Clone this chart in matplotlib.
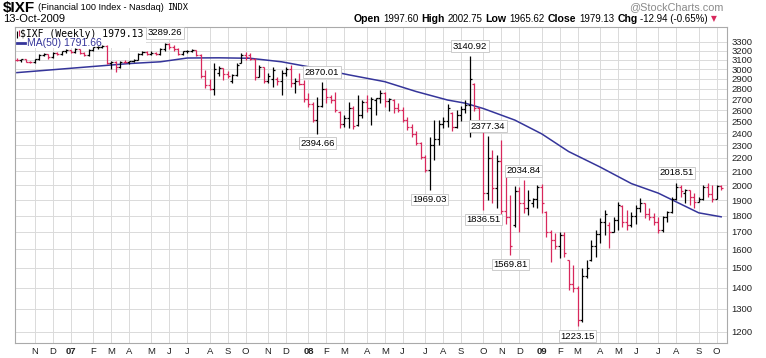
import pandas as pd
import matplotlib.pyplot as plt
from matplotlib import font_manager
from matplotlib.ticker import FixedLocator, NullLocator

# weekly OHLC of $IXF, first bar = week of 2006-10-09
opens = [3100, 3095, 3105, 3078, 3070, 3105, 3150, 3160, 3125, 3170,
         3165, 3190, 3205, 3180, 3215, 3170, 3150, 3210, 3235, 3240,
         3250, 3065, 3080, 3020, 3080, 3075, 3085, 3100, 3165, 3180,
         3165, 3175, 3160, 3220, 3270, 3240, 3215, 3165, 3190, 3200,
         3205, 3150, 2930, 2840, 2800, 2960, 3010, 2950, 2880, 2940,
         3064, 3150, 3150, 3110, 2920, 3020, 2880, 2900, 2900, 2880,
         2960, 3000, 2860, 2880, 2850, 2700, 2660, 2510, 2640, 2800,
         2720, 2690, 2580, 2480, 2530, 2620, 2470, 2560, 2670, 2620,
         2690, 2710, 2760, 2680, 2690, 2620, 2600, 2510, 2450, 2390,
         2320, 2210, 2110, 2300, 2350, 2480, 2500, 2570, 2450, 2560,
         2610, 2650, 2850, 2620, 2440, 1950, 2200, 1980, 2180, 1830,
         1790, 1740, 1960, 1880, 1850, 1880, 1910, 1990, 1820, 1700,
         1650, 1620, 1680, 1540, 1420, 1400, 1250, 1460, 1540, 1620,
         1690, 1760, 1740, 1700, 1770, 1860, 1760, 1740, 1800, 1850,
         1880, 1810, 1790, 1760, 1710, 1790, 1820, 1910, 1990, 1950,
         1965, 1920, 1890, 1910, 1990, 1940, 1910, 1997.60]
highs = [3120, 3112, 3108, 3090, 3110, 3160, 3170, 3165, 3180, 3185,
         3200, 3215, 3210, 3225, 3220, 3185, 3220, 3245, 3250, 3262,
         3260, 3090, 3085, 3090, 3095, 3090, 3110, 3175, 3190, 3195,
         3190, 3185, 3230, 3289.26, 3280, 3260, 3225, 3200, 3210, 3215,
         3210, 3160, 2990, 2900, 3064, 3030, 3015, 2980, 2945, 3064,
         3171, 3185, 3171, 3120, 3043, 3025, 2960, 3022, 2920, 2990,
         3025, 3043, 2910, 2960, 2887, 2761, 2675, 2724, 2870.01, 2810,
         2740, 2770, 2590, 2560, 2675, 2640, 2742, 2693, 2742, 2724,
         2712, 2788, 2765, 2712, 2700, 2666, 2630, 2539, 2480, 2420,
         2330, 2220, 2371, 2511, 2511, 2540, 2660, 2583, 2600, 2640,
         2690, 3140.92, 2860, 2630, 2440, 2377.34, 2262, 2222, 2342, 2146,
         1934, 1994, 1987, 2034.84, 1967, 1915, 2001, 2010, 1830, 1711,
         1694, 1700, 1700, 1540, 1515, 1410, 1499, 1540, 1652, 1711,
         1785, 1835, 1760, 1792, 1888, 1868, 1835, 1823, 1868, 1914,
         1881, 1849, 1817, 1792, 1800, 1830, 1921, 2018.51, 2001, 1975,
         1970, 1947, 1921, 2001, 2015, 2000, 2001, 2002.75]
lows = [3085, 3080, 3070, 3060, 3065, 3100, 3140, 3110, 3120, 3150,
        3150, 3175, 3170, 3175, 3160, 3140, 3145, 3200, 3220, 3225,
        3050, 3005, 2965, 3015, 3060, 3050, 3070, 3095, 3150, 3155,
        3150, 3150, 3155, 3200, 3220, 3200, 3150, 3155, 3170, 3180,
        3140, 2910, 2810, 2790, 2742, 2930, 2890, 2910, 2858, 2930,
        3060, 3100, 3096, 2887, 2915, 2858, 2860, 2820, 2839, 2742,
        2930, 2820, 2761, 2839, 2675, 2630, 2490, 2394.66, 2630, 2666,
        2666, 2583, 2444, 2450, 2444, 2430, 2460, 2530, 2583, 2469,
        2560, 2666, 2630, 2590, 2574, 2583, 2494, 2425, 2370, 2300,
        2190, 2094, 1969.03, 2184, 2304, 2440, 2452, 2417, 2440, 2500,
        2574, 2363, 2590, 2425, 1836.51, 1900, 1880, 1849, 1792, 1750,
        1569.81, 1732, 1700, 1817, 1804, 1855, 1850, 1817, 1671, 1531,
        1600, 1552, 1557, 1388, 1380, 1223.15, 1240, 1447, 1535, 1557,
        1635, 1682, 1607, 1700, 1711, 1732, 1711, 1732, 1750, 1823,
        1785, 1772, 1743, 1694, 1700, 1760, 1817, 1900, 1921, 1881,
        1868, 1849, 1890, 1900, 1921, 1890, 1905, 1965.62]
closes = [3095, 3105, 3078, 3070, 3105, 3150, 3160, 3125, 3170, 3165,
          3190, 3205, 3180, 3215, 3170, 3150, 3210, 3235, 3240, 3250,
          3065, 3080, 3020, 3080, 3075, 3085, 3100, 3165, 3180, 3165,
          3175, 3160, 3220, 3270, 3240, 3215, 3165, 3190, 3200, 3205,
          3150, 2930, 2840, 2800, 3000, 3010, 2950, 2930, 2940, 3040,
          3150, 3130, 3110, 2920, 3020, 2880, 2930, 2990, 2880, 2960,
          3000, 2860, 2880, 2850, 2700, 2660, 2510, 2640, 2800, 2720,
          2690, 2600, 2480, 2530, 2620, 2460, 2560, 2670, 2620, 2700,
          2710, 2760, 2680, 2700, 2620, 2600, 2510, 2450, 2390, 2320,
          2210, 2110, 2300, 2350, 2480, 2500, 2620, 2450, 2560, 2610,
          2650, 2900, 2620, 2450, 1950, 2200, 1980, 2180, 1830, 1790,
          1620, 1960, 1880, 1850, 1900, 1910, 1990, 1880, 1700, 1650,
          1620, 1680, 1580, 1420, 1400, 1250, 1460, 1500, 1620, 1690,
          1760, 1810, 1700, 1770, 1870, 1760, 1740, 1800, 1850, 1880,
          1810, 1790, 1760, 1710, 1790, 1820, 1910, 1990, 1960, 1965,
          1920, 1890, 1910, 1990, 1940, 1910, 1992.07, 1979.13]

# 50-week moving average, read at these weeks
ma_weeks = [0, 25, 32, 38, 45, 52, 59, 67, 74, 82, 89, 96, 100, 104,
            111, 117, 123, 130, 137, 143, 149, 152, 157]
ma_values = [2963, 3058, 3077, 3118, 3120, 3115, 3077, 3007, 2940, 2871,
             2774, 2693, 2663, 2614, 2511, 2393, 2250, 2132, 2012, 1946,
             1859, 1817, 1792]

# labelled extremes: (week, 'high' / 'low')
marks = [(33, 'high'), (68, 'high'), (67, 'low'), (92, 'low'), (101, 'high'),
         (105, 'high'), (104, 'low'), (113, 'high'), (110, 'low'),
         (125, 'low'), (147, 'high')]

y_ticks = list(range(1200, 3400, 100))

names = {f.name for f in font_manager.fontManager.ttflist}
narrow = 'Liberation Sans Narrow' if 'Liberation Sans Narrow' in names else 'Liberation Sans'
plt.rcParams['font.family'] = [narrow, 'DejaVu Sans']

W, H = 766, 358
L, R, T, B = 15, 727, 27, 343
RED = '#d8285c'
NAVY = '#35359a'

fig = plt.figure(figsize=(W / 100, H / 100), dpi=100)
ax = fig.add_axes([L / W, 1 - B / H, (R - L) / W, (B - T) / H])
ax.set_axisbelow(True)

n = len(closes)
idx = list(range(n))
prev = [opens[0]] + closes[:-1]
colors = ['black' if c >= p else RED for c, p in zip(closes, prev)]
ax.vlines(idx, lows, highs, colors=colors, lw=0.9, zorder=3)
ax.hlines(opens, [i - 0.45 for i in idx], idx, colors=colors, lw=0.9, zorder=3)
ax.hlines(closes, idx, [i + 0.45 for i in idx], colors=colors, lw=0.9, zorder=3)

ax.plot(ma_weeks, ma_values, color=NAVY, lw=1.1, zorder=2)

ax.set_yscale('log')
ax.set_ylim(1154, 3474)
ax.set_xlim(-0.42, n + 0.3)
ax.yaxis.set_major_locator(FixedLocator(y_ticks))
ax.yaxis.set_minor_locator(NullLocator())
ax.set_yticklabels([str(v) for v in y_ticks])
ax.yaxis.tick_right()

dates = pd.date_range('2006-10-09', periods=n, freq='W-MON')
xt, xl = [], []
for i in range(1, n):
    if dates[i].month != dates[i - 1].month:
        xt.append(i)
        xl.append(dates[i].strftime('%y') if dates[i].month == 1 else dates[i].strftime('%b')[0])
ax.set_xticks(xt)
ax.set_xticklabels(xl)
for t in ax.get_xticklabels():
    if t.get_text().isdigit():
        t.set_fontweight('bold')
        t.set_fontsize(7.5)

ax.tick_params(axis='both', length=0, labelsize=6.8, colors='#222222')
ax.tick_params(axis='x', pad=3)
ax.tick_params(axis='y', pad=3)
ax.grid(True, color='#dadada', lw=0.7)
for s in ax.spines.values():
    s.set_color('#aaaaaa')
    s.set_linewidth(0.8)
ax.spines['bottom'].set_linestyle((0, (1, 1)))

for i, kind in marks:
    v = highs[i] if kind == 'high' else lows[i]
    off = 7 if kind == 'high' else -7
    ax.annotate(f'{v:.2f}', xy=(i, v), xytext=(0, off), textcoords='offset points',
                ha='center', va='center', fontsize=6.8, zorder=5, annotation_clip=False,
                bbox=dict(boxstyle='square,pad=0.15', fc='white', ec='#c4c4c4', lw=0.6))


def ax_pt(px, py):
    return (px - L) / (R - L), (B - py) / (B - T)


# legend block
x0, y0 = ax_pt(16, 48)
x1, y1 = ax_pt(146, 28)
ax.add_patch(plt.Rectangle((x0, y0), x1 - x0, y1 - y0, transform=ax.transAxes,
                           fc='white', ec='none', zorder=1))
ax.text(*ax_pt(20, 34), '$IXF (Weekly) 1979.13', transform=ax.transAxes,
        family='DejaVu Sans Mono', fontsize=7, va='center', ha='left', zorder=4)
ax.vlines([ax_pt(16.5, 0)[0], ax_pt(18.5, 0)[0]], [ax_pt(0, 38)[1], ax_pt(0, 36)[1]],
          [ax_pt(0, 31)[1], ax_pt(0, 30)[1]], transform=ax.transAxes,
          colors=['black', RED], lw=0.8, zorder=4)
ax.plot([ax_pt(17, 0)[0], ax_pt(25, 0)[0]], [ax_pt(0, 43)[1]] * 2,
        transform=ax.transAxes, color=NAVY, lw=2, zorder=4)
ax.text(*ax_pt(27, 43.5), 'MA(50) 1791.66', transform=ax.transAxes, color=NAVY,
        fontsize=7.5, va='center', ha='left', zorder=4)

# header
renderer = fig.canvas.get_renderer()


def chain(items, x, y, right=False):
    seq = reversed(items) if right else items
    for s, kw in seq:
        t = fig.text(x / W, 1 - y / H, s, ha='right' if right else 'left', va='center', **kw)
        bb = t.get_window_extent(renderer)
        x = bb.x0 - 3 if right else bb.x1 + 3


chain([('$IXF', dict(fontsize=11, fontweight='bold')),
       ('(Financial 100 Index - Nasdaq)', dict(fontsize=6.6)),
       ('INDX', dict(fontsize=6.3, family='DejaVu Sans Mono'))], 3, 8)
fig.text(3 / W, 1 - 18.5 / H, '13-Oct-2009', fontsize=8, va='center')
fig.text(723 / W, 1 - 7 / H, '@StockCharts.com', fontsize=7.8, color='#8a8a8a',
         ha='right', va='center')
b = dict(fontsize=7.6, fontweight='bold')
r = dict(fontsize=7)
chain([('Open', b), ('1997.60', r), ('High', b), ('2002.75', r), ('Low', b),
       ('1965.62', r), ('Close', b), ('1979.13', r), ('Chg', b),
       ('-12.94 (-0.65%)', r), ('\u25bc', dict(fontsize=5.5, color=RED, family='DejaVu Sans'))],
      717, 18.5, right=True)

fig.savefig('out.png', dpi=100)
